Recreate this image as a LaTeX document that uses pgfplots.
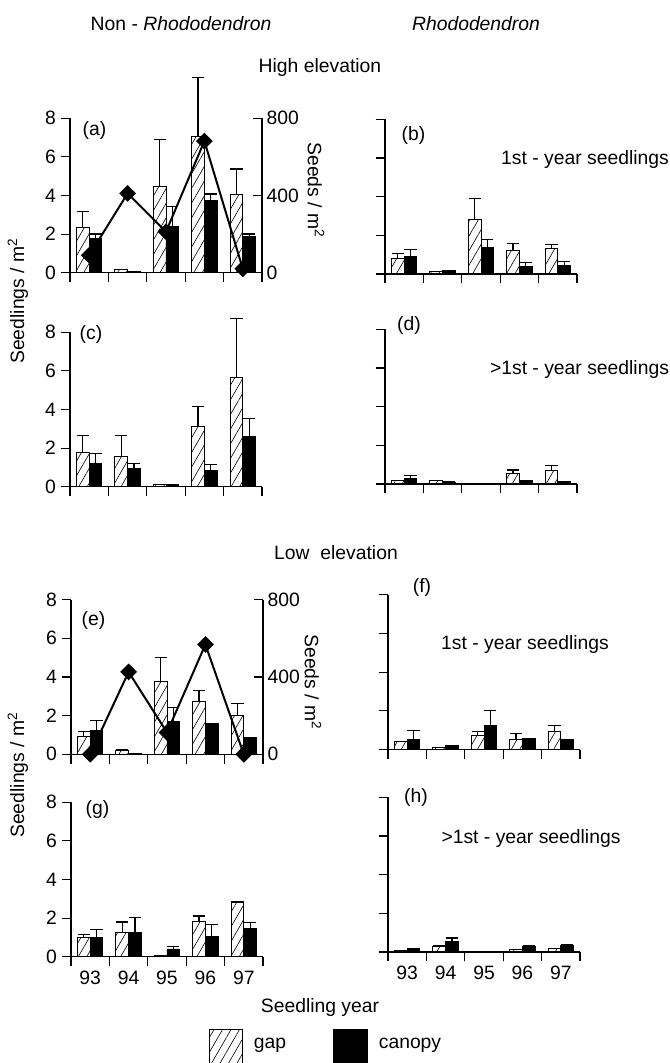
\documentclass[border=0pt]{standalone}
\usepackage{fontspec}
\setmainfont{Liberation Sans}
\usepackage{pgfplots}
\pgfplotsset{compat=1.18}
\usepackage{pgfplotstable}
\usetikzlibrary{patterns.meta}

% x: category (0=93 ... 4=97); g/c: gap/canopy mean; ge/ce: upper error
\pgfplotstableread{
x g ge c ce
0 2.34 0.82 1.78 0.22
1 0.15 0 0.07 0
2 4.45 2.45 2.38 1.03
3 7.03 3.07 3.76 0.31
4 4.07 1.29 1.86 0.14
}\tabA
\pgfplotstableread{
x s
0 90
1 410
2 212
3 681
4 20
}\seedA
\pgfplotstableread{
x g ge c ce
0 0.78 0.26 0.90 0.38
1 0.14 0 0.20 0
2 2.82 1.08 1.39 0.39
3 1.23 0.33 0.40 0.20
4 1.32 0.20 0.45 0.19
}\tabB
\pgfplotstableread{
x g ge c ce
0 1.76 0.87 1.21 0.50
1 1.57 1.07 0.95 0.24
2 0.10 0 0.12 0
3 3.13 1.02 0.83 0.33
4 5.66 3.06 2.61 0.93
}\tabC
\pgfplotstableread{
x g ge c ce
0 0.20 0 0.29 0.14
1 0.17 0 0.10 0
2 0 0 0 0
3 0.52 0.20 0.17 0
4 0.69 0.26 0.15 0
}\tabD
\pgfplotstableread{
x g ge c ce
0 0.92 0.26 1.21 0.52
1 0.22 0 0.03 0
2 3.76 1.25 1.68 0.74
3 2.74 0.55 1.61 0
4 2.00 0.61 0.87 0
}\tabE
\pgfplotstableread{
x s
0 0
1 426
2 113
3 568
4 0
}\seedE
\pgfplotstableread{
x g ge c ce
0 0.41 0 0.50 0.50
1 0.12 0 0.20 0
2 0.72 0.22 1.23 0.77
3 0.51 0.33 0.55 0
4 0.94 0.29 0.50 0
}\tabF
\pgfplotstableread{
x g ge c ce
0 0.98 0.17 1.00 0.42
1 1.24 0.56 1.24 0.80
2 0.08 0 0.40 0.12
3 1.84 0.27 1.03 0.64
4 2.80 0.05 1.46 0.31
}\tabG
\pgfplotstableread{
x g ge c ce
0 0.09 0 0.17 0
1 0.31 0 0.53 0.19
2 0 0 0 0
3 0.15 0 0.29 0.05
4 0.20 0 0.36 0
}\tabH

\newcommand{\fs}{\fontsize{14.5}{16.5}\selectfont}
\def\u{0.75pt}

\pgfplotsset{
  panel/.style={
    scale only axis, width=144pt, height=116pt,
    anchor=south west,
    xmin=-0.5, xmax=4.5, ymin=0, ymax=8,
    clip=false,
    axis x line*=bottom, axis y line*=left,
    axis line style={line width=0.8pt},
    xtick={0,1,2,3,4}, xticklabels={},
    minor xtick={-0.5,0.5,1.5,2.5,3.5,4.5},
    ytick={0,2,4,6,8},
    tick align=outside,
    major tick length=7pt, minor tick length=7pt,
    tick style={black, line width=0.8pt},
    major x tick style={draw=none},
    ybar=0pt, bar width=9.5pt,
    tick label style={font=\fs},
    /pgf/number format/assume math mode=true,
  },
  rightpanel/.style={panel, yticklabels={}},
  bottompanel/.style={xticklabels={93,94,95,96,97}},
  errb/.style={error bars/.cd, y dir=plus, y explicit,
     error bar style={line width=0.9pt, black, solid},
     error mark options={black, rotate=90, mark size=4.6pt, line width=0.9pt}},
  gapbar/.style={draw=black, line width=0.7pt,
     pattern={Lines[angle=60, distance=5.5pt, line width=0.45pt]}, errb},
  canbar/.style={draw=black, fill=black, line width=0.7pt, errb},
  seedaxis/.style={
    scale only axis, width=144pt, height=116pt,
    anchor=south west,
    xmin=-0.5, xmax=4.5, ymin=0, ymax=800,
    clip=false,
    axis x line=none, axis y line*=right,
    axis line style={line width=0.8pt},
    ytick={0,400,800},
    tick align=inside, major tick length=7pt,
    tick style={black, line width=0.8pt},
    tick label style={font=\fs},
    /pgf/number format/assume math mode=true,
  },
  seedline/.style={black, line width=1.5pt, mark=square*, mark size=3.7pt,
     mark options={rotate=45, solid}},
}

\begin{document}
\begin{tikzpicture}[font=\fs]
\path[use as bounding box] (0,0) rectangle (670*\u,-1063*\u);

% ---------- (a)
\begin{axis}[panel, at={(70*\u,-272.7*\u)}]
\addplot[gapbar] table[x=x,y=g,y error=ge]{\tabA};
\addplot[canbar] table[x=x,y=c,y error=ce]{\tabA};
\end{axis}
\begin{axis}[seedaxis, at={(70*\u,-272.7*\u)}]
\addplot[seedline] table[x=x,y=s]{\seedA};
\end{axis}
% ---------- (b)
\begin{axis}[rightpanel, at={(385*\u,-274*\u)}]
\addplot[gapbar] table[x=x,y=g,y error=ge]{\tabB};
\addplot[canbar] table[x=x,y=c,y error=ce]{\tabB};
\end{axis}
% ---------- (c)
\begin{axis}[panel, at={(70*\u,-486.7*\u)}]
\addplot[gapbar] table[x=x,y=g,y error=ge]{\tabC};
\addplot[canbar] table[x=x,y=c,y error=ce]{\tabC};
\end{axis}
% ---------- (d)
\begin{axis}[rightpanel, at={(385*\u,-484*\u)}]
\addplot[gapbar] table[x=x,y=g,y error=ge]{\tabD};
\addplot[canbar] table[x=x,y=c,y error=ce]{\tabD};
\end{axis}
% ---------- (e)
\begin{axis}[panel, at={(71*\u,-754.3*\u)}]
\addplot[gapbar] table[x=x,y=g,y error=ge]{\tabE};
\addplot[canbar] table[x=x,y=c,y error=ce]{\tabE};
\end{axis}
\begin{axis}[seedaxis, at={(71*\u,-754.3*\u)}]
\addplot[seedline] table[x=x,y=s]{\seedE};
\end{axis}
% ---------- (f)
\begin{axis}[rightpanel, at={(388*\u,-749.5*\u)}]
\addplot[gapbar] table[x=x,y=g,y error=ge]{\tabF};
\addplot[canbar] table[x=x,y=c,y error=ce]{\tabF};
\end{axis}
% ---------- (g)
\begin{axis}[panel, bottompanel, at={(71*\u,-956.7*\u)}]
\addplot[gapbar] table[x=x,y=g,y error=ge]{\tabG};
\addplot[canbar] table[x=x,y=c,y error=ce]{\tabG};
\end{axis}
% ---------- (h)
\begin{axis}[rightpanel, bottompanel, at={(388*\u,-952*\u)}]
\addplot[gapbar] table[x=x,y=g,y error=ge]{\tabH};
\addplot[canbar] table[x=x,y=c,y error=ce]{\tabH};
\end{axis}

% ---------- texts
\node at (181*\u,-24*\u) {Non - \textit{Rhododendron}};
\node at (476*\u,-24*\u) {\textit{Rhododendron}};
\node at (320*\u,-68*\u) {High elevation};
\node at (336*\u,-553*\u) {Low\ \ elevation};

\node at (94.5*\u,-130*\u) {(a)};
\node at (413.5*\u,-135.5*\u) {(b)};
\node at (585*\u,-160*\u) {1st - year seedlings};
\node at (91*\u,-334*\u) {(c)};
\node at (409*\u,-325*\u) {(d)};
\node at (579.5*\u,-369*\u) {>1st - year seedlings};
\node at (93.5*\u,-620*\u) {(e)};
\node at (422*\u,-587*\u) {(f)};
\node at (525*\u,-644*\u) {1st - year seedlings};
\node at (97.5*\u,-809*\u) {(g)};
\node at (416*\u,-797*\u) {(h)};
\node at (531*\u,-838*\u) {>1st - year seedlings};

\node[rotate=90] at (18*\u,-301*\u) {Seedlings / m\textsuperscript{2}};
\node[rotate=90] at (18*\u,-775*\u) {Seedlings / m\textsuperscript{2}};
\node[rotate=-90] at (316*\u,-190*\u) {Seeds / m\textsuperscript{2}};
\node[rotate=-90] at (313*\u,-682*\u) {Seeds / m\textsuperscript{2}};

\node at (320*\u,-1007*\u) {Seedling year};

% ---------- legend
\draw[line width=0.7pt, pattern={Lines[angle=60, distance=5.5pt, line width=0.45pt]}]
  (209*\u,-1029*\u) rectangle (242*\u,-1066*\u);
\fill[black] (333*\u,-1029*\u) rectangle (368*\u,-1066*\u);
\node at (270*\u,-1045*\u) {gap};
\node at (410*\u,-1045*\u) {canopy};
\end{tikzpicture}
\end{document}
